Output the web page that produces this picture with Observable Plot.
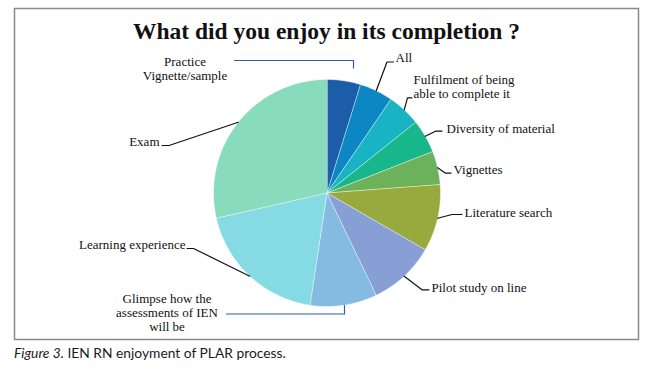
<!DOCTYPE html>
<html><head><meta charset="utf-8">
<script src="https://cdn.jsdelivr.net/npm/d3@7"></script>
<script src="https://cdn.jsdelivr.net/npm/@observablehq/plot@0.6"></script>
<style>
body{margin:0;background:#fff;}
#caption{font-family:Lato, "Open Sans", sans-serif;font-size:13.8px;line-height:16px;margin:0 0 0 14px;color:#1a1a1a;}
</style></head><body>
<div id="chart"></div>
<div id="caption"><i>Figure 3.</i> IEN RN enjoyment of PLAR process.</div>
<script>
// ---- data ----
const title = "What did you enjoy in its completion ?";
const categories = ["Practice Vignette/sample", "All", "Fulfilment of being able to complete it", "Diversity of material", "Vignettes", "Literature search", "Pilot study on line", "Glimpse how the assessments of IEN will be", "Learning experience", "Exam"];
const labelLines = ["Practice\nVignette/sample", "All", "Fulfilment of being\nable to complete it", "Diversity of material", "Vignettes", "Literature search", "Pilot study on line", "Glimpse how the\nassessments of IEN\nwill be", "Learning experience", "Exam"];
const values = [1, 1, 1, 1, 1, 2, 2, 2, 4, 6];
const colors = ["#1b5da8", "#0c87c3", "#18b4c4", "#17b68b", "#6bb25a", "#98aa3d", "#879fd5", "#86bbe1", "#86dae3", "#89dbbe"];

// ---- layout (pixels) ----
const W = 652, H = 345, CX = 326.5, CY = 192.5, R = 113.5;
const box = {left: 14, right: 638, top: 8, bottom: 339};
const X = px => (px - CX) / R, Y = py => (CY - py) / R;
const layout = [
  {anchor: "middle", lx: 184.5, ly: 68, lead: [[234, 60], [353, 60], [353, 67.5]], edge: false, blue: true},
  {anchor: "start", lx: 395, ly: 57, lead: [[393, 61.5], [386.5, 61.5]], edge: true},
  {anchor: "start", lx: 413, ly: 86, lead: [[411.5, 97.3], [407, 97.3]], edge: true},
  {anchor: "start", lx: 446, ly: 127.7, lead: [[441.5, 130.7], [435, 130.7]], edge: true},
  {anchor: "start", lx: 453, ly: 169, lead: [[450.5, 172.7], [445, 172.7]], edge: true},
  {anchor: "start", lx: 464, ly: 211.7, lead: [[461.5, 214], [451.5, 214]], edge: true},
  {anchor: "start", lx: 431, ly: 286.7, lead: [[428.5, 289.3], [421.5, 289.3]], edge: true},
  {anchor: "middle", lx: 166.5, ly: 312, lead: [[226, 313.5], [344, 313.5], [344, 305]], edge: false, blue: true},
  {anchor: "end", lx: 185, ly: 244.3, lead: [[186.5, 248], [193, 248]], edge: true},
  {anchor: "end", lx: 159, ly: 140.7, lead: [[161.5, 145], [168.5, 145]], edge: true}
];

// ---- slices from data ----
const arcs = d3.pie().sort(null)(values);
const slicePts = [];
arcs.forEach((a, i) => {
  const name = categories[i];
  slicePts.push({name, x: 0, y: 0});
  const n = Math.max(6, Math.ceil((a.endAngle - a.startAngle) / (Math.PI / 120)));
  for (let k = 0; k <= n; k++) {
    const t = a.startAngle + (a.endAngle - a.startAngle) * k / n;
    slicePts.push({name, x: Math.sin(t), y: Math.cos(t)});
  }
});

// ---- leaders & labels ----
const leaderPts = [];
layout.forEach((l, i) => {
  const a = arcs[i], mid = (a.startAngle + a.endAngle) / 2;
  const pts = l.lead.map(([px, py]) => ({x: X(px), y: Y(py)}));
  if (l.edge) pts.push({x: Math.sin(mid), y: Math.cos(mid)});
  pts.forEach(p => leaderPts.push({name: categories[i], blue: !!l.blue, ...p}));
});
const labelRows = layout.map((l, i) => ({text: labelLines[i], anchor: l.anchor, x: X(l.lx), y: Y(l.ly)}));

const serif = "Liberation Serif, DejaVu Serif, serif";
const textOpts = anchor => ({x: "x", y: "y", text: "text", textAnchor: anchor, lineAnchor: "middle", fontSize: 13, lineHeight: 1.05, fontFamily: serif, fill: "#111"});

const chart = Plot.plot({
  width: W, height: H,
  marginLeft: box.left, marginRight: W - box.right, marginTop: box.top, marginBottom: H - box.bottom,
  x: {domain: [X(box.left), X(box.right)], axis: null},
  y: {domain: [Y(box.bottom), Y(box.top)], axis: null},
  color: {domain: categories, range: colors},
  marks: [
    Plot.frame({stroke: "#8a8a8a", strokeWidth: 1.5}),
    Plot.line(slicePts, {x: "x", y: "y", z: "name", fill: "name", stroke: "white", strokeWidth: 0.6, strokeOpacity: 0.7, curve: "linear-closed"}),
    Plot.line(leaderPts.filter(d => !d.blue), {x: "x", y: "y", z: "name", stroke: "#111", strokeWidth: 1.2}),
    Plot.line(leaderPts.filter(d => d.blue), {x: "x", y: "y", z: "name", stroke: "#2a5fa6", strokeWidth: 1.2}),
    Plot.text(labelRows.filter(d => d.anchor === "start"), textOpts("start")),
    Plot.text(labelRows.filter(d => d.anchor === "middle"), textOpts("middle")),
    Plot.text(labelRows.filter(d => d.anchor === "end"), textOpts("end")),
    Plot.text([title], {frameAnchor: "top", dy: 23, lineAnchor: "middle", fontSize: 23.5, fontWeight: "bold", fontFamily: serif, fill: "#111"})
  ]
});
document.getElementById("chart").appendChild(chart);
</script>
</body></html>
